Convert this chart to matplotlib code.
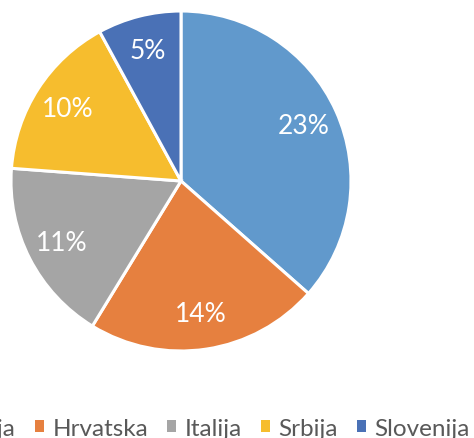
import matplotlib.pyplot as plt
from matplotlib.patches import Patch

labels = ['Austrija', 'Hrvatska', 'Italija', 'Srbija', 'Slovenija']
values = [23, 14, 11, 10, 5]
colors = ['#6199CC', '#E6803F', '#A5A5A5', '#F6BD2E', '#4A71B6']

plt.rcParams['font.family'] = ['Lato', 'DejaVu Sans']

fig = plt.figure(figsize=(4.74, 4.39), dpi=100)
W, H = 474, 439
cx, cy, r = 181, 257, 170
ax = fig.add_axes([(cx - r) / W, (cy - r) / H, 2 * r / W, 2 * r / H])

wedges, texts, autotexts = ax.pie(values, colors=colors, startangle=90, counterclock=False,
                                  radius=1, autopct=lambda p: '%d%%' % round(p * sum(values) / 100),
                                  pctdistance=0.79,
                                  wedgeprops={'edgecolor': 'white', 'linewidth': 2.2},
                                  textprops={'color': 'white', 'fontsize': 19})
ax.set_xlim(-1, 1)
ax.set_ylim(-1, 1)
ax.set_aspect('equal')

handles = [Patch(facecolor=c, edgecolor='none') for c in colors]
fig.legend(handles, labels, ncol=5, loc='lower right', bbox_to_anchor=(472 / W, -3 / H),
           frameon=False, fontsize=17.5, labelcolor='#595959', handlelength=0.38,
           handleheight=0.38, handletextpad=0.34, columnspacing=0.78, borderpad=0.1,
           borderaxespad=0)

fig.savefig('out.png', dpi=100)
